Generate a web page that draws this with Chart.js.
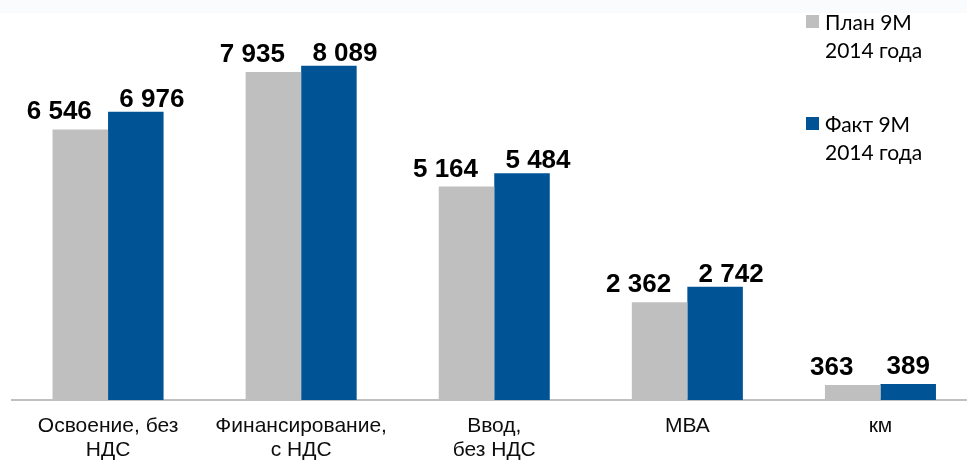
<!DOCTYPE html>
<html>
<head>
<meta charset="utf-8">
<script src="https://cdn.jsdelivr.net/npm/chart.js@4.4.1/dist/chart.umd.min.js"></script>
<style>
    html, body { margin: 0; padding: 0; background: #fff; overflow: hidden; }
    body { width: 967px; height: 460px; position: relative;
           background: linear-gradient(#fafbfd 0, #fafbfd 13px, #fff 13px); }
    #chart { position: absolute; left: 0; top: 0; }
    .legend-item { position: absolute; left: 806px; font-family: Lato, "Open Sans", sans-serif;
                   font-size: 21px; line-height: 28px; color: #000; }
    .legend-item .box { position: absolute; left: 0; top: 7px; width: 13px; height: 13px; }
    .legend-item .txt { margin-left: 19px; white-space: nowrap; }
</style>
</head>
<body>
<canvas id="chart" width="977" height="460"></canvas>
<div id="legend"></div>
<script>
const categories = [
    ['Освоение, без', 'НДС'],
    ['Финансирование,', 'с НДС'],
    ['Ввод,', 'без НДС'],
    'МВА',
    'км'
];
const planValues = [6546, 7935, 5164, 2362, 363];
const factValues = [6976, 8089, 5484, 2742, 389];
const seriesNames = [['План 9М', '2014 года'], ['Факт 9М', '2014 года']];
const seriesColors = ['#bfbfbf', '#005496'];

function fmt(v) {
    return String(v).replace(/\B(?=(\d{3})+(?!\d))/g, ' ');
}

// labels above bars, gray ones pushed left, blue ones right when they don't fit
const barLabels = {
    id: 'barLabels',
    afterDatasetsDraw(chart) {
        const ctx = chart.ctx;
        ctx.save();
        ctx.font = 'bold 26px "Liberation Sans", Arial, sans-serif';
        ctx.fillStyle = '#000';
        ctx.textAlign = 'center';
        ctx.textBaseline = 'alphabetic';
        chart.data.datasets.forEach((ds, i) => {
            const meta = chart.getDatasetMeta(i);
            meta.data.forEach((bar, j) => {
                const text = fmt(ds.data[j]);
                const w = ctx.measureText(text).width;
                let x = bar.x;
                let gap;
                if (i === 0) {
                    x -= 21;
                    gap = 10;
                } else {
                    if (w > bar.width) { x += 16; gap = 5; } else { gap = 10; }
                }
                ctx.fillText(text, x, bar.y - gap);
            });
        });
        ctx.restore();
    }
};

const ctx = document.getElementById('chart').getContext('2d');
const chart = new Chart(ctx, {
    type: 'bar',
    data: {
        labels: categories,
        datasets: [{
            label: seriesNames[0].join(' '),
            data: planValues,
            backgroundColor: seriesColors[0],
            categoryPercentage: 0.575,
            barPercentage: 1
        }, {
            label: seriesNames[1].join(' '),
            data: factValues,
            backgroundColor: seriesColors[1],
            categoryPercentage: 0.575,
            barPercentage: 1
        }]
    },
    options: {
        responsive: false,
        animation: false,
        layout: { padding: { left: 11.5, top: 28, right: 0, bottom: 0 } },
        plugins: {
            legend: { display: false },
            tooltip: { enabled: false }
        },
        scales: {
            x: {
                grid: { display: false, drawTicks: false },
                border: { display: true, color: '#c0c0c0', width: 2 },
                ticks: {
                    color: '#0d0d0d',
                    padding: 14,
                    maxRotation: 0,
                    autoSkip: false,
                    font: { family: '"Liberation Sans", Arial, sans-serif', size: 21, lineHeight: 1.14 }
                },
                afterFit(scale) { scale.height = 60; }
            },
            y: {
                display: false,
                min: 0,
                max: 9000
            }
        }
    },
    plugins: [barLabels]
});

// legend as html, built from the datasets
const legend = document.getElementById('legend');
const legendTops = [8, 110];
chart.data.datasets.forEach((ds, i) => {
    const item = document.createElement('div');
    item.className = 'legend-item';
    item.style.top = legendTops[i] + 'px';
    item.innerHTML = '<span class="box" style="background:' + ds.backgroundColor + '"></span>' +
        '<div class="txt">' + seriesNames[i].join('<br>') + '</div>';
    legend.appendChild(item);
});
</script>
</body>
</html>
